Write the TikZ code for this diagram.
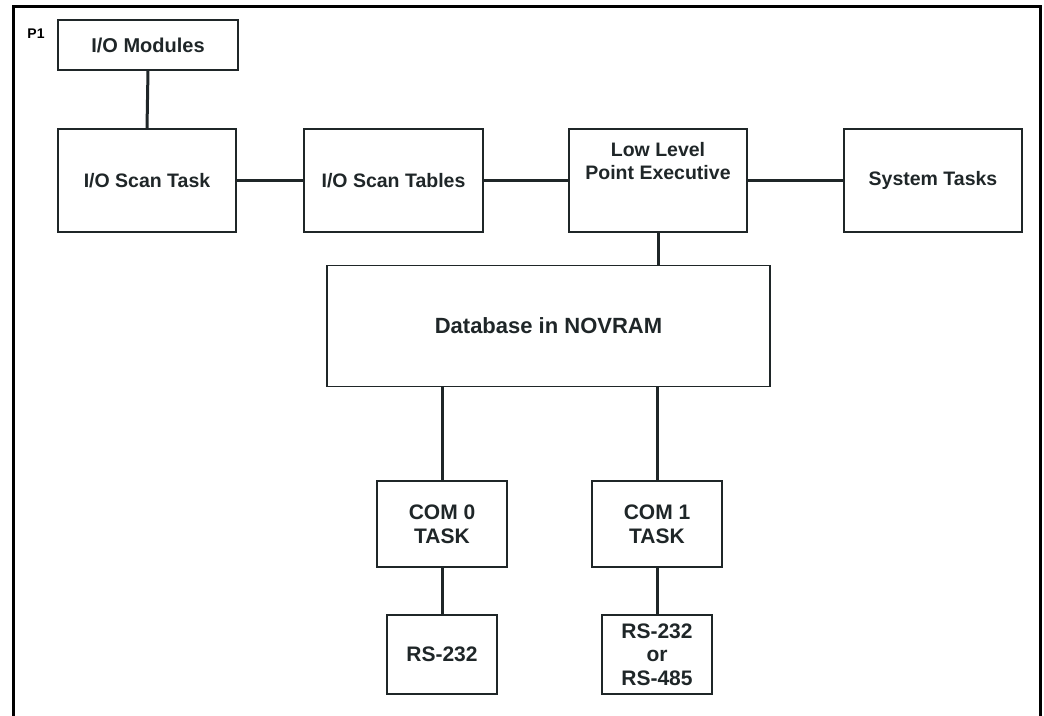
\documentclass[tikz,border=0pt]{standalone}
\usepackage{fontspec}
\setmainfont{Liberation Sans}
\usetikzlibrary{positioning}
\definecolor{linegray}{HTML}{1F2628}

\begin{document}
\begin{tikzpicture}[x=1pt, y=-1pt,
        block/.style = {draw = linegray, line width = 1.5pt, rectangle, inner sep = 0pt, align = center, text = linegray, font = \bfseries\fontsize{19.5}{22.5}\selectfont},
        wire/.style = {draw = linegray, line width = 3pt}]
            \useasboundingbox (0,0) rectangle (1044,715);
            \draw[line width = 3pt] (13,720) -- (13,6) -- (1040,6) -- (1040,720);
            \node[font = \bfseries\fontsize{14}{16}\selectfont] (p1) at (36,34) {P1};
            \node[block, minimum width = 180pt, minimum height = 50pt, font = \bfseries\fontsize{20}{23}\selectfont] (iomod) at (148,45) {I/O Modules};
            \node[block, minimum width = 178pt, minimum height = 103pt] (scantask) at (147,180.5) {I/O Scan Task};
            \node[block, minimum width = 179pt, minimum height = 103pt] (scantab) at (393.5,180.5) {I/O Scan Tables};
            \node[block, minimum width = 178pt, minimum height = 103pt] (llpe) at (658,180.5) {};
            \node[block, draw = none] (llpetext) at (658,161) {Low Level\\Point Executive};
            \node[block, minimum width = 178pt, minimum height = 103pt] (systask) at (933,180.5) {System Tasks};
            \node[block, minimum width = 443pt, minimum height = 121pt, font = \bfseries\fontsize{22}{25}\selectfont] (db) at (548.5,326) {Database in NOVRAM};
            \node[block, minimum width = 130pt, minimum height = 86pt, font = \bfseries\fontsize{21}{24}\selectfont] (com0) at (442,524) {COM 0\\TASK};
            \node[block, minimum width = 130pt, minimum height = 86pt, font = \bfseries\fontsize{21}{24}\selectfont] (com1) at (657,524) {COM 1\\TASK};
            \node[block, minimum width = 110pt, minimum height = 79pt, font = \bfseries\fontsize{21}{23.5}\selectfont] (rs0) at (442,654.5) {RS-232};
            \node[block, minimum width = 110pt, minimum height = 79pt, font = \bfseries\fontsize{21}{23.5}\selectfont] (rs1) at (657,654.5) {RS-232\\or\\RS-485};
            \draw[wire] (iomod.south) -- (scantask.north);
            \draw[wire] (scantask.east) -- (scantab.west);
            \draw[wire] (scantab.east) -- (llpe.west);
            \draw[wire] (llpe.east) -- (systask.west);
            \draw[wire] (llpe.south) -- (llpe.south |- db.north);
            \draw[wire] (com0.north |- db.south) -- (com0.north);
            \draw[wire] (com1.north |- db.south) -- (com1.north);
            \draw[wire] (com0.south) -- (rs0.north);
            \draw[wire] (com1.south) -- (rs1.north);
        \end{tikzpicture}
\end{document}
